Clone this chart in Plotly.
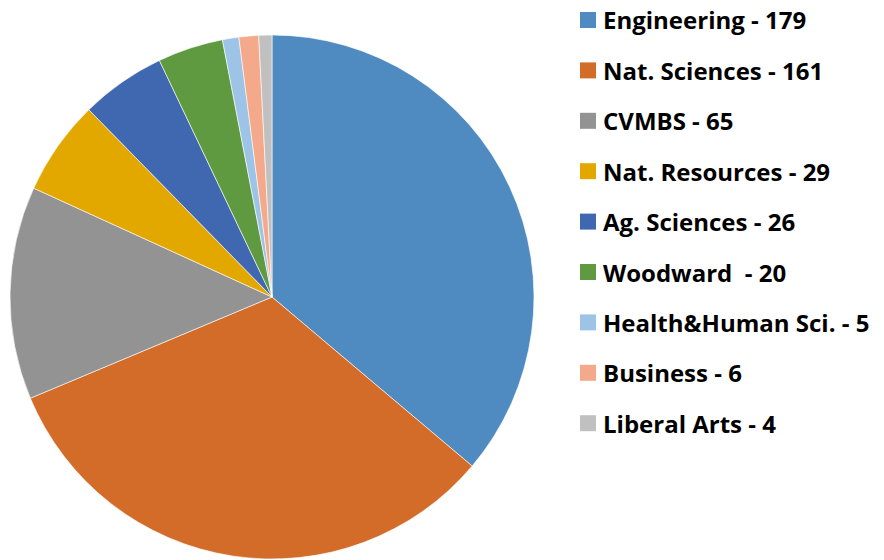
import plotly.graph_objects as go

categories = ["Engineering", "Nat. Sciences", "CVMBS", "Nat. Resources", "Ag. Sciences",
              "Woodward ", "Health&Human Sci.", "Business", "Liberal Arts"]
values = [179, 161, 65, 29, 26, 20, 5, 6, 4]
colors = ["#4F8BC0", "#D46C29", "#939393", "#E3A800", "#3F68B0",
          "#5F9A40", "#9DC3E6", "#F4A98A", "#C0C0C0"]

W, H = 884, 560

fig = go.Figure(go.Pie(
    labels=categories,
    values=values,
    sort=False,
    direction="clockwise",
    rotation=0,
    textinfo="none",
    hoverinfo="label+value",
    marker=dict(colors=colors, line=dict(color="rgba(255,255,255,0.6)", width=1)),
    domain=dict(x=[10 / W, 534 / W],
                y=[(H - 559) / H, (H - 35) / H]),
    showlegend=False,
))

shapes = []
annotations = []
for i, (cat, val, col) in enumerate(zip(categories, values, colors)):
    yc = 20 + 50.4 * i
    shapes.append(dict(type="rect", xref="paper", yref="paper",
                       x0=580 / W, x1=596 / W,
                       y0=1 - (yc - 8) / H, y1=1 - (yc + 8) / H,
                       fillcolor=col, line=dict(width=0)))
    annotations.append(dict(xref="paper", yref="paper", x=602 / W, y=1 - yc / H,
                            xanchor="left", yanchor="middle", showarrow=False,
                            borderpad=0,
                            text="<b>%s - %d</b>" % (cat, val),
                            font=dict(family="Open Sans", size=24, color="#000000")))

fig.update_layout(
    width=W, height=H,
    margin=dict(l=0, r=0, t=0, b=0),
    paper_bgcolor="white",
    plot_bgcolor="white",
    shapes=shapes,
    annotations=annotations,
)

fig.write_html("out.html", config={"displayModeBar": False},
               post_script="document.body.style.margin='0px';")
